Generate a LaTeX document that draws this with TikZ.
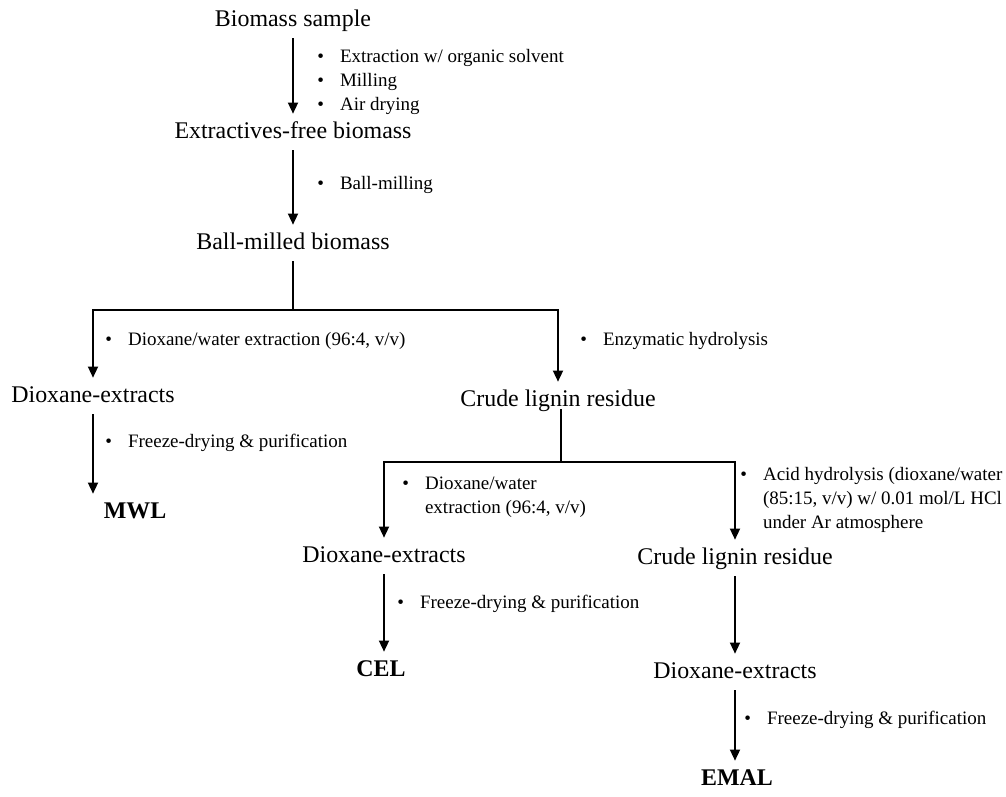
\documentclass[tikz,border=0pt]{standalone}
\usepackage{fontspec}
\setmainfont{Liberation Serif}
\usepackage{tikz}
\usetikzlibrary{arrows.meta, positioning}
\newcommand{\bul}{\makebox[1.2em][l]{\textbullet}}
\newcommand{\nobul}{\hspace*{1.2em}}

\begin{document}
\begin{tikzpicture}[x=0.025cm, y=-0.025cm, >={Triangle[length=8pt, width=7pt]},
    stage/.style={font=\fontsize{17}{20}\selectfont, inner xsep=0pt, inner ysep=8pt,
      text height=0.95em, text depth=0em},
    product/.style={stage, font=\fontsize{17}{20}\selectfont\bfseries},
    note/.style={anchor=west, align=left, inner sep=0pt, font=\fontsize{13.5}{17}\selectfont},
    flow/.style={->, line width=1.6pt},
    joint/.style={line width=1.6pt}]
      \useasboundingbox (0,0) rectangle (1006,796);
      % Main line
      \node[stage] (bio) at (293,20) {Biomass sample};
      \node[stage] (efree) at (293,132) {Extractives-free biomass};
      \node[stage] (bmb) at (293,243) {Ball-milled biomass};
      \draw[flow] (bio) -- (efree);
      \draw[flow] (efree) -- (bmb);
      \node[note] (n1) at (317,82) {\bul Extraction w/ organic solvent\\ \bul Milling\\ \bul Air drying};
      \node[note] (n2) at (317,185) {\bul Ball-milling};
      % First split
      \coordinate (split1) at (293,310);
      \node[stage] (dxl) at (93,396) {Dioxane-extracts};
      \node[stage] (crl) at (558,400) {Crude lignin residue};
      \draw[joint] (bmb) -- (split1);
      \draw[flow, line join=miter] (split1) -| (dxl);
      \draw[flow, line join=miter] (split1) -| (crl);
      \node[note] (n3) at (105,341) {\bul Dioxane/water extraction (96:4, v/v)};
      \node[note] (n4) at (580,341) {\bul Enzymatic hydrolysis};
      % MWL
      \node[product] (mwl) at (135,512) {MWL};
      \draw[flow] (dxl.south) -- (dxl.south |- mwl.north);
      \node[note] (n5) at (105,443) {\bul Freeze-drying \& purification};
      % Second split
      \coordinate (split2) at (561,462);
      \node[stage] (dxm) at (384,556) {Dioxane-extracts};
      \node[stage] (crr) at (735,558) {Crude lignin residue};
      \draw[joint] ([yshift=6.5pt]crl.south -| split2) -- (split2);
      \draw[flow, line join=miter] (split2) -| (dxm);
      \draw[flow, line join=miter] (split2) -| (crr);
      \node[note] (n6) at (402,497) {\bul Dioxane/water\\ \nobul extraction (96:4, v/v)};
      \node[note] (n7) at (740,500) {\bul Acid hydrolysis (dioxane/water\\ \nobul (85:15, v/v) w/ 0.01 mol/L HCl\\ \nobul under Ar atmosphere};
      % CEL
      \node[product] (cel) at (381,670) {CEL};
      \draw[flow] (dxm.south) -- (dxm.south |- cel.north);
      \node[note] (n8) at (397,604) {\bul Freeze-drying \& purification};
      % EMAL
      \node[stage] (dxr) at (735,672) {Dioxane-extracts};
      \node[product] (emal) at (737,779) {EMAL};
      \draw[flow] (crr) -- (dxr);
      \draw[flow] (dxr.south) -- (dxr.south |- emal.north);
      \node[note] (n9) at (744,720) {\bul Freeze-drying \& purification};
\end{tikzpicture}
\end{document}
